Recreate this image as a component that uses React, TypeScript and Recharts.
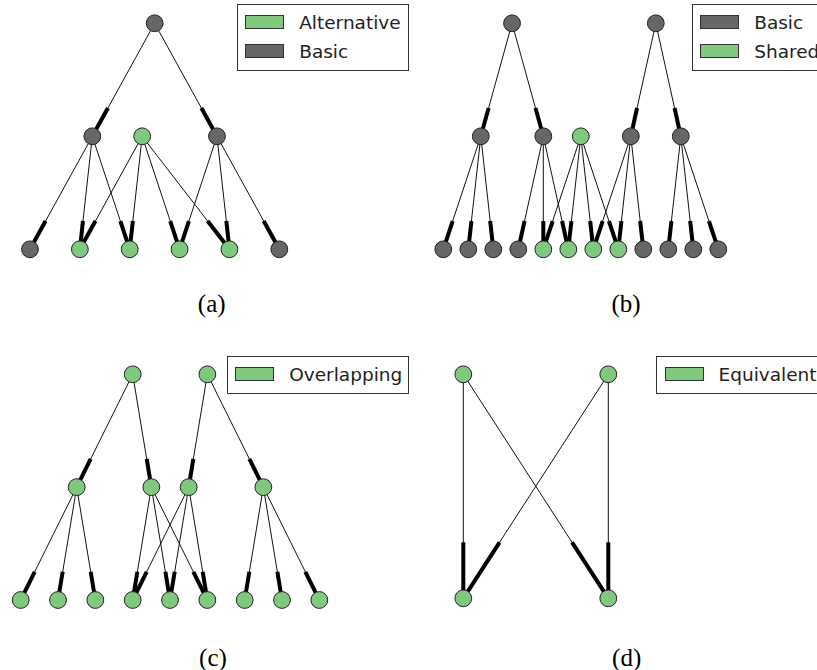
import React from 'react';
import { ScatterChart, Scatter, XAxis, YAxis, Legend } from 'recharts';

const KIND_COLORS: Record<string, string> = {
  Basic: '#666666',
  Alternative: '#7fc97f',
  Shared: '#7fc97f',
  Overlapping: '#7fc97f',
  Equivalent: '#7fc97f',
};

// (a) alternative parents: x in leaf slots, y in levels
const aNodeX = [2.5, 1.25, 2.25, 3.75, 0, 1, 2, 3, 4, 5];
const aNodeLevel = [0, 1, 1, 1, 2, 2, 2, 2, 2, 2];
const aNodeKind = ['Basic', 'Basic', 'Alternative', 'Basic', 'Basic', 'Alternative', 'Alternative', 'Alternative', 'Alternative', 'Basic'];
const aEdges = [[0, 1], [0, 3], [1, 4], [1, 5], [1, 6], [2, 5], [2, 6], [2, 7], [2, 8], [3, 7], [3, 8], [3, 9]];
const aLegend = ['Alternative', 'Basic'];

// (b) shared subtree
const bNodeX = [2.75, 8.5, 1.5, 4, 5.5, 7.5, 9.5, 0, 1, 2, 3, 4, 5, 6, 7, 8, 9, 10, 11];
const bNodeLevel = [0, 0, 1, 1, 1, 1, 1, 2, 2, 2, 2, 2, 2, 2, 2, 2, 2, 2, 2];
const bNodeKind = ['Basic', 'Basic', 'Basic', 'Basic', 'Shared', 'Basic', 'Basic',
  'Basic', 'Basic', 'Basic', 'Basic', 'Shared', 'Shared', 'Shared', 'Shared', 'Basic', 'Basic', 'Basic', 'Basic'];
const bEdges = [[0, 2], [0, 3], [1, 5], [1, 6], [2, 7], [2, 8], [2, 9], [3, 10], [3, 11], [3, 12],
  [4, 11], [4, 12], [4, 13], [4, 14], [5, 13], [5, 14], [5, 15], [6, 16], [6, 17], [6, 18]];
const bLegend = ['Basic', 'Shared'];

// (c) overlapping
const cNodeX = [3, 5, 1.5, 3.5, 4.5, 6.5, 0, 1, 2, 3, 4, 5, 6, 7, 8];
const cNodeLevel = [0, 0, 1, 1, 1, 1, 2, 2, 2, 2, 2, 2, 2, 2, 2];
const cNodeKind = cNodeX.map(() => 'Overlapping');
const cEdges = [[0, 2], [0, 3], [1, 4], [1, 5], [2, 6], [2, 7], [2, 8], [3, 9], [3, 10], [3, 11],
  [4, 9], [4, 10], [4, 11], [5, 12], [5, 13], [5, 14]];
const cLegend = ['Overlapping'];

// (d) equivalent
const dNodeX = [0, 1, 0, 1];
const dNodeLevel = [0, 0, 1, 1];
const dNodeKind = ['Equivalent', 'Equivalent', 'Equivalent', 'Equivalent'];
const dEdges = [[0, 2], [0, 3], [1, 2], [1, 3]];
const dLegend = ['Equivalent'];

const panels = [
  { id: 'a', nodeX: aNodeX, level: aNodeLevel, kind: aNodeKind, edges: aEdges, legend: aLegend,
    left: 0, top: 0, w: 408, h: 340, ox: 30, ux: 49.86, oy: 23.3, uy: 113,
    legendPos: { left: 236.7, top: 4, width: 172.6 }, labelX: 211.7, labelY: 304 },
  { id: 'b', nodeX: bNodeX, level: bNodeLevel, kind: bNodeKind, edges: bEdges, legend: bLegend,
    left: 408, top: 0, w: 409, h: 340, ox: 35.3, ux: 25, oy: 23.3, uy: 113,
    legendPos: { left: 283.7, top: 4, width: 160 }, labelX: 218, labelY: 304 },
  { id: 'c', nodeX: cNodeX, level: cNodeLevel, kind: cNodeKind, edges: cEdges, legend: cLegend,
    left: 0, top: 340, w: 408, h: 330, ox: 20.7, ux: 37.33, oy: 34.3, uy: 112.85,
    legendPos: { left: 226.7, top: 16, width: 182.6 }, labelX: 213, labelY: 317.7 },
  { id: 'd', nodeX: dNodeX, level: dNodeLevel, kind: dNodeKind, edges: dEdges, legend: dLegend,
    left: 408, top: 340, w: 409, h: 330, ox: 55.3, ux: 145, oy: 34.3, uy: 224,
    legendPos: { left: 248, top: 16, width: 180 }, labelX: 218.7, labelY: 317.7 },
];

const NodeDot = (props: any) => (
  <circle cx={props.cx} cy={props.cy} r={8.4} fill={KIND_COLORS[props.payload.kind]} stroke="#222" strokeWidth={1} />
);
const NoDot = () => <g />;

function LegendBox({ items }: { items: string[] }) {
  return (
    <div style={{ border: '1.2px solid #333', background: '#fff', padding: '2.5px 0 4px 7.5px', boxSizing: 'border-box',
      fontFamily: '"DejaVu Sans", sans-serif', fontSize: 18.5, color: '#222', whiteSpace: 'nowrap' }}>
      {items.map((k) => (
        <div key={k} style={{ height: 29, display: 'flex', alignItems: 'center' }}>
          <span style={{ display: 'inline-block', width: 39, height: 14, boxSizing: 'border-box', background: KIND_COLORS[k], border: '1px solid #333', marginRight: 15 }} />
          <span>{k}</span>
        </div>
      ))}
    </div>
  );
}

function TreePanel({ p }: { p: any }) {
  const nodes = p.nodeX.map((x: number, i: number) => ({ x, y: p.level[i], kind: p.kind[i] }));
  const xDomain = [-p.ox / p.ux, (p.w - p.ox) / p.ux];
  const yDomain = [-p.oy / p.uy, (p.h - p.oy) / p.uy];
  const edgeSeries: React.ReactNode[] = [];
  p.edges.forEach(([s, t]: number[], i: number) => {
    const a = nodes[s];
    const b = nodes[t];
    // heavy tail marks the last quarter of each edge (edge head)
    const mid = { x: a.x + 0.75 * (b.x - a.x), y: a.y + 0.75 * (b.y - a.y) };
    edgeSeries.push(
      <Scatter key={`thin-${i}`} data={[{ x: a.x, y: a.y }, { x: b.x, y: b.y }]} line={{ stroke: '#111', strokeWidth: 1 }}
        shape={NoDot} legendType="none" isAnimationActive={false} />
    );
    edgeSeries.push(
      <Scatter key={`thick-${i}`} data={[mid, { x: b.x, y: b.y }]} line={{ stroke: '#000', strokeWidth: 4 }}
        shape={NoDot} legendType="none" isAnimationActive={false} />
    );
  });
  return (
    <div style={{ position: 'absolute', left: p.left, top: p.top, width: p.w, height: p.h }}>
      <ScatterChart width={p.w} height={p.h} margin={{ top: 0, right: 0, bottom: 0, left: 0 }}>
        <XAxis type="number" dataKey="x" domain={xDomain} hide allowDataOverflow />
        <YAxis type="number" dataKey="y" domain={yDomain} hide reversed allowDataOverflow />
        {edgeSeries}
        <Scatter data={nodes} shape={NodeDot} legendType="none" isAnimationActive={false} />
        <Legend layout="vertical" align="center" verticalAlign="middle"
          wrapperStyle={{ left: p.legendPos.left, top: p.legendPos.top, width: p.legendPos.width, height: 'auto' }}
          content={() => <LegendBox items={p.legend} />} />
      </ScatterChart>
      <div style={{ position: 'absolute', left: p.labelX - 40, top: p.labelY - 14, width: 80, textAlign: 'center',
        fontFamily: '"Liberation Serif", serif', fontSize: 25, lineHeight: '28px', color: '#000' }}>
        ({p.id})
      </div>
    </div>
  );
}

export default function App() {
  return (
    <div style={{ position: 'absolute', left: 0, top: 0, width: 817, height: 670, overflow: 'hidden', background: '#fff' }}>
      {panels.map((p) => <TreePanel key={p.id} p={p} />)}
    </div>
  );
}
